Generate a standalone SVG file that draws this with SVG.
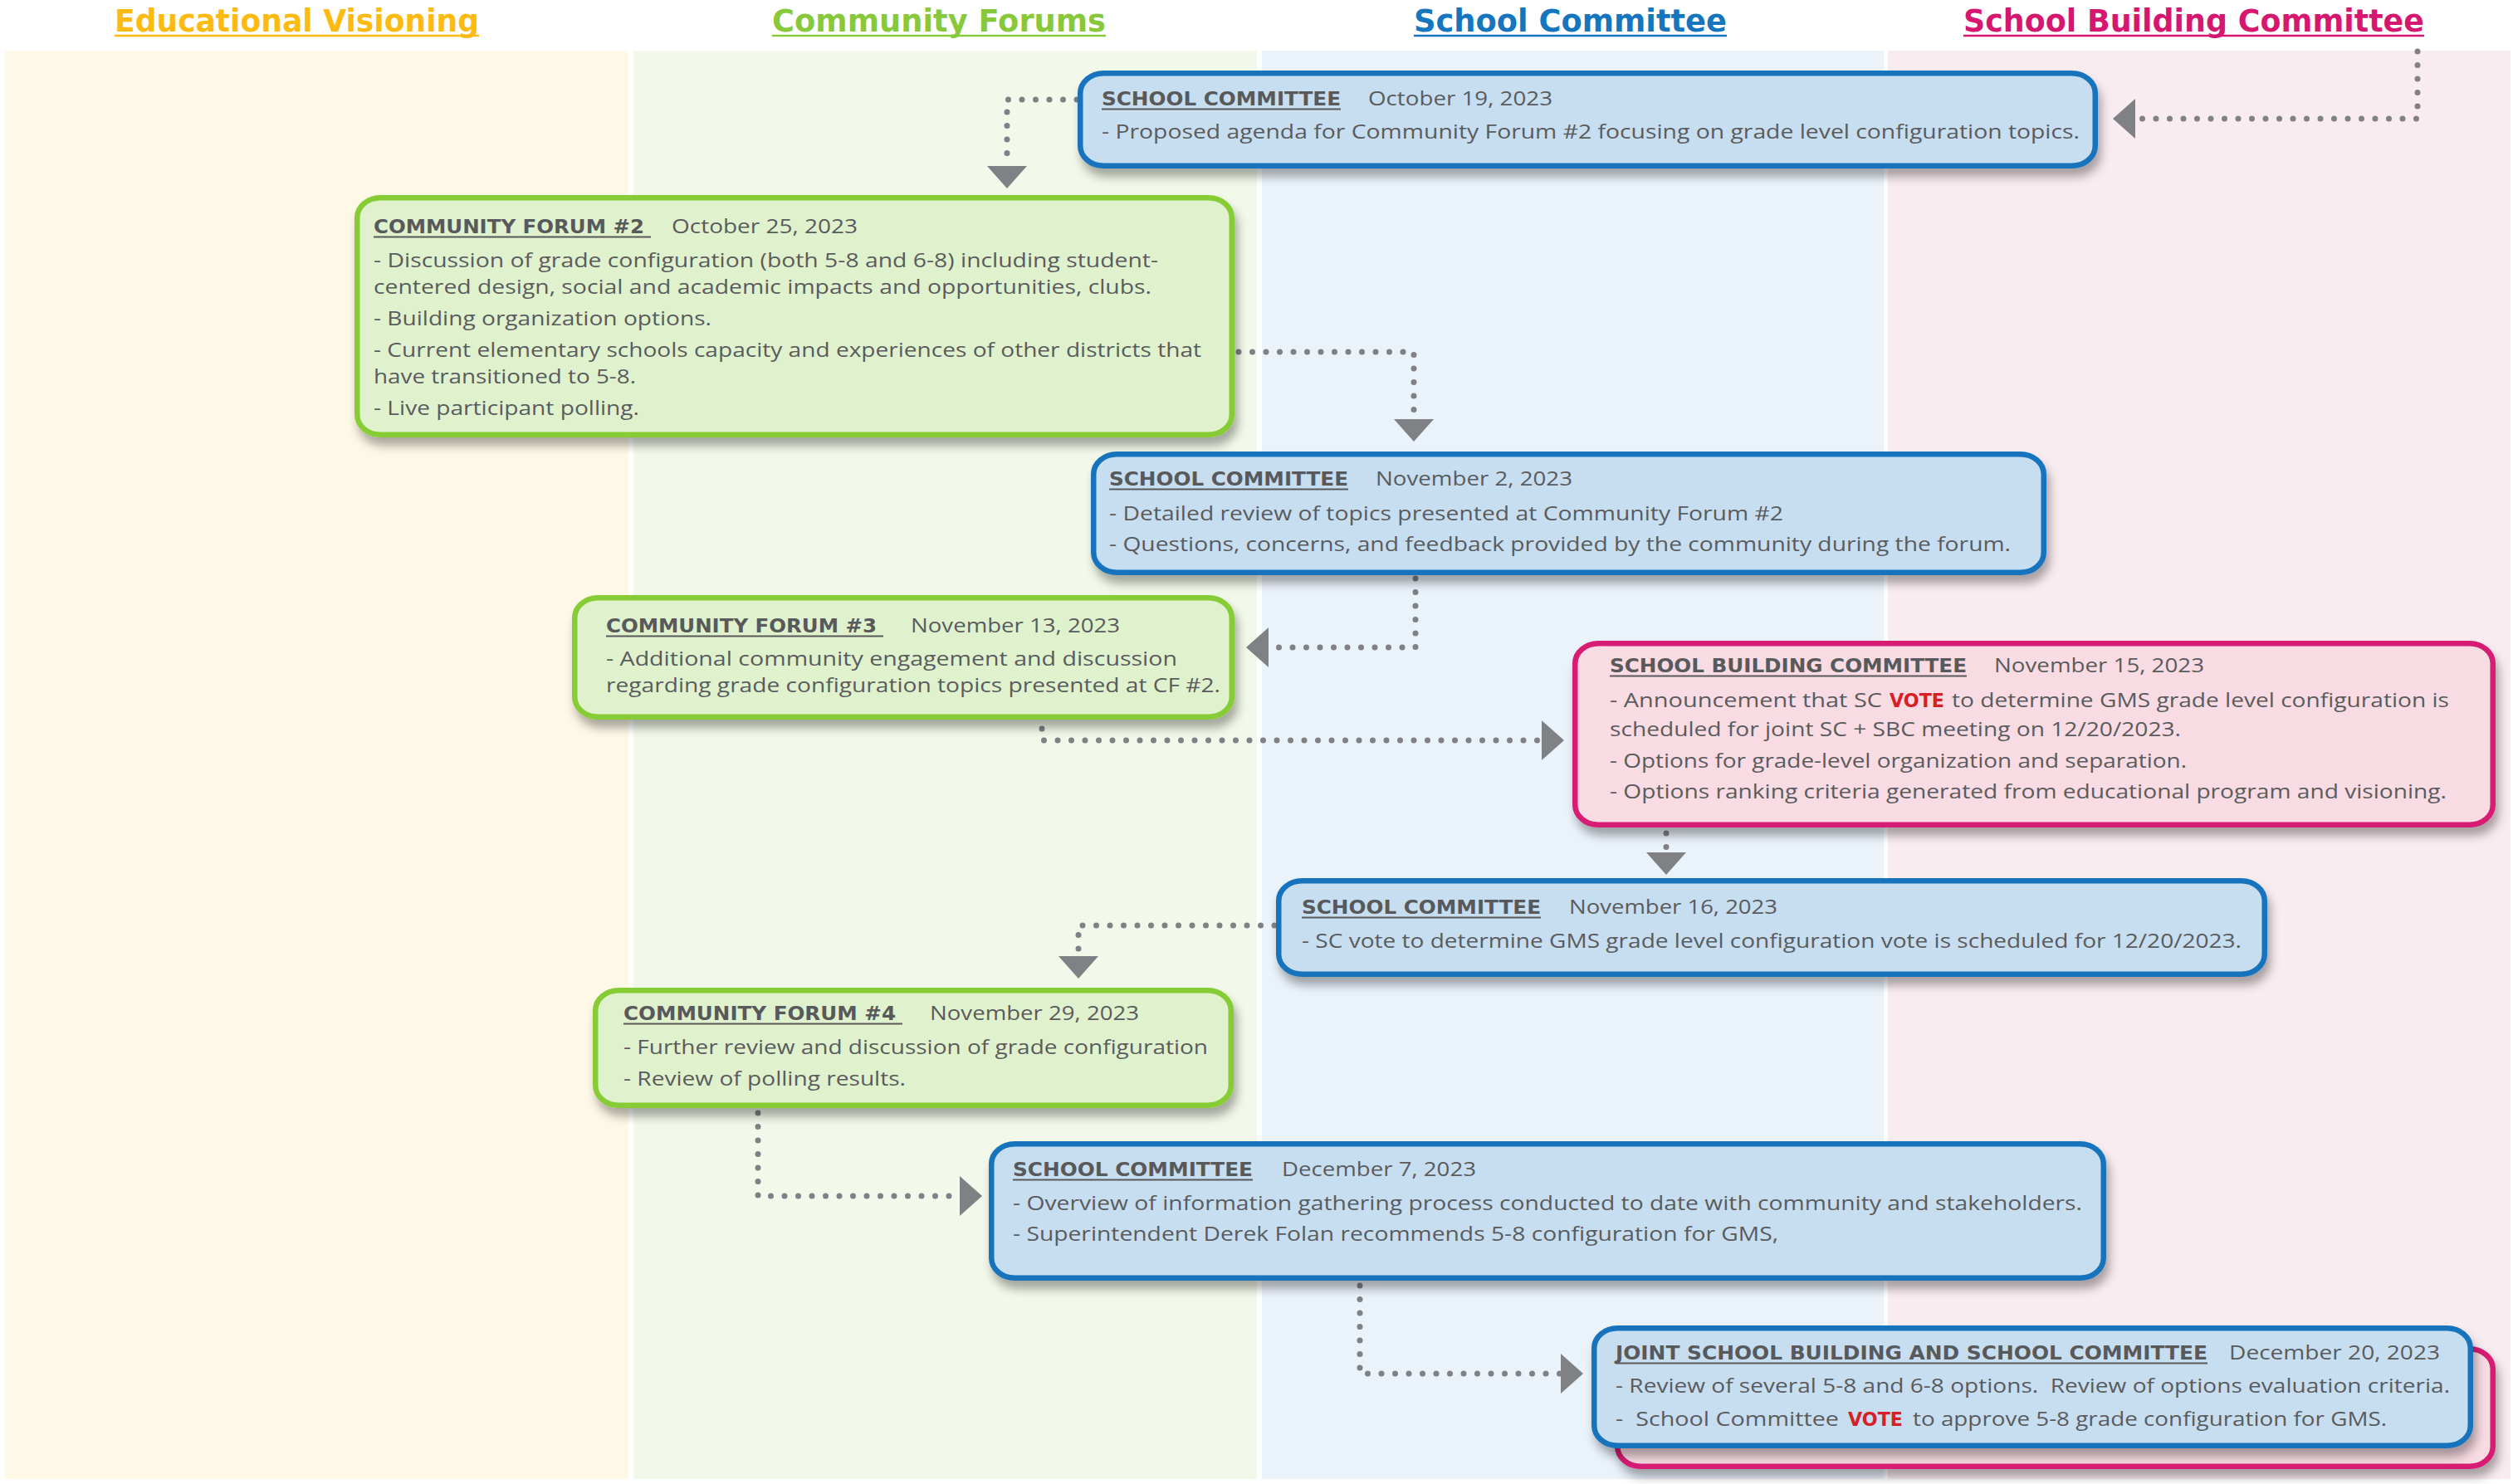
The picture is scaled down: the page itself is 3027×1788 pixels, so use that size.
<svg xmlns="http://www.w3.org/2000/svg" width="3027" height="1788" viewBox="0 0 3027 1788">
  <style>
    .col { font-family: "DejaVu Sans", "Liberation Sans", sans-serif; font-weight: bold; font-size: 37px; }
    .hd { font-family: "DejaVu Sans", "Liberation Sans", sans-serif; font-weight: bold; font-size: 23.5px; fill: #58595b; }
    .tx { font-family: "Open Sans", "DejaVu Sans", sans-serif; font-weight: 400; font-size: 23.5px; fill: #5a5b5d; }
    .pre { white-space: pre; }
    .vote { font-family: "DejaVu Sans", "Liberation Sans", sans-serif; font-weight: bold; font-size: 23.5px; fill: #d71f26; }
    .ul { stroke: #58595b; stroke-width: 2; }
    .sc { fill: #c7def1; stroke: #1473bc; stroke-width: 6.5; }
    .cf { fill: #e0f2cd; stroke: #86cc35; stroke-width: 6.5; }
    .sbc { fill: #f8dbe3; stroke: #d71a73; stroke-width: 6.5; }
    .link { fill: none; stroke: #808184; stroke-width: 7; stroke-linecap: round; stroke-dasharray: 0 16.5; }
  </style>
  <defs>
    <filter id="shadow" x="-5%" y="-15%" width="112%" height="145%">
      <feDropShadow dx="4" dy="10" stdDeviation="6" flood-color="#000" flood-opacity="0.33"/>
    </filter>
    <marker id="arrow" markerUnits="userSpaceOnUse" markerWidth="28" markerHeight="48" refX="0" refY="24" orient="auto" viewBox="0 0 28 48">
      <path d="M0,0 L27,24 L0,48 Z" fill="#808184"/>
    </marker>
  </defs>

  <rect width="3027" height="1788" fill="#ffffff"/>

  <!-- swimlanes -->
  <g id="lanes">
    <rect x="6" y="61" width="751" height="1721" fill="#fef8e6"/>
    <rect x="763" y="61" width="751" height="1721" fill="#f2f8ea"/>
    <rect x="1520" y="61" width="749" height="1721" fill="#eaf2fa"/>
    <rect x="2274" y="61" width="750" height="1721" fill="#f9ecf0"/>
  </g>

  <!-- lane titles -->
  <g id="lane-titles">
    <text class="col" x="138" y="38" textLength="439" lengthAdjust="spacingAndGlyphs" fill="#fdbb12">Educational Visioning</text>
    <line x1="138" y1="43" x2="577" y2="43" stroke="#fdbb12" stroke-width="2.7"/>
    <text class="col" x="930" y="38" textLength="402" lengthAdjust="spacingAndGlyphs" fill="#88c93c">Community Forums</text>
    <line x1="930" y1="43" x2="1332" y2="43" stroke="#88c93c" stroke-width="2.7"/>
    <text class="col" x="1703" y="38" textLength="377" lengthAdjust="spacingAndGlyphs" fill="#1575bd">School Committee</text>
    <line x1="1703" y1="43" x2="2080" y2="43" stroke="#1575bd" stroke-width="2.7"/>
    <text class="col" x="2365" y="38" textLength="555" lengthAdjust="spacingAndGlyphs" fill="#d6176f">School Building Committee</text>
    <line x1="2365" y1="43" x2="2920" y2="43" stroke="#d6176f" stroke-width="2.7"/>
  </g>

  <!-- connectors -->
  <g id="connectors">
    <path class="link" d="M1297,120 H1213 V200" marker-end="url(#arrow)"/>
    <path class="link" d="M2912,62 V143 H2572" marker-end="url(#arrow)"/>
    <path class="link" d="M1492,424 H1703 V505" marker-end="url(#arrow)"/>
    <path class="link" d="M1705,697 V780 H1528" marker-end="url(#arrow)"/>
    <path class="link" d="M1255,878 V892 H1857" marker-end="url(#arrow)"/>
    <path class="link" d="M2007,1004 V1027" marker-end="url(#arrow)"/>
    <path class="link" d="M1535,1115 H1299 V1152" marker-end="url(#arrow)"/>
    <path class="link" d="M913,1341 V1441 H1156" marker-end="url(#arrow)"/>
    <path class="link" d="M1638,1549 V1655 H1880" marker-end="url(#arrow)"/>
  </g>

  <!-- SC, October 19 -->
  <g id="sc-oct19">
    <rect class="sc" x="1301.25" y="88.25" width="1222.5" height="111.5" rx="28" ry="24" filter="url(#shadow)"/>
    <text class="hd" x="1327" y="127" textLength="288" lengthAdjust="spacingAndGlyphs">SCHOOL COMMITTEE</text>
    <line class="ul" x1="1327" y1="131.5" x2="1615" y2="131.5"/>
    <text class="tx" x="1648" y="127" textLength="222" lengthAdjust="spacingAndGlyphs">October 19, 2023</text>
    <text class="tx" x="1327" y="167" textLength="1178" lengthAdjust="spacingAndGlyphs">- Proposed agenda for Community Forum #2 focusing on grade level configuration topics.</text>
  </g>

  <!-- Community Forum #2 -->
  <g id="cf2-oct25">
    <rect class="cf" x="430.25" y="238.25" width="1053.5" height="285.5" rx="28" ry="24" filter="url(#shadow)"/>
    <text class="hd" x="450" y="281" textLength="326" lengthAdjust="spacingAndGlyphs">COMMUNITY FORUM #2</text>
    <line class="ul" x1="450" y1="285.5" x2="784" y2="285.5"/>
    <text class="tx" x="809" y="281" textLength="224" lengthAdjust="spacingAndGlyphs">October 25, 2023</text>
    <text class="tx" x="450" y="322" textLength="945" lengthAdjust="spacingAndGlyphs">- Discussion of grade configuration (both 5-8 and 6-8) including student-</text>
    <text class="tx" x="450" y="354" textLength="937" lengthAdjust="spacingAndGlyphs">centered design, social and academic impacts and opportunities, clubs.</text>
    <text class="tx" x="450" y="392" textLength="407" lengthAdjust="spacingAndGlyphs">- Building organization options.</text>
    <text class="tx" x="450" y="430" textLength="997" lengthAdjust="spacingAndGlyphs">- Current elementary schools capacity and experiences of other districts that</text>
    <text class="tx" x="450" y="462" textLength="316" lengthAdjust="spacingAndGlyphs">have transitioned to 5-8.</text>
    <text class="tx" x="450" y="500" textLength="320" lengthAdjust="spacingAndGlyphs">- Live participant polling.</text>
  </g>

  <!-- SC, November 2 -->
  <g id="sc-nov2">
    <rect class="sc" x="1317.25" y="547.25" width="1144.5" height="142.5" rx="28" ry="24" filter="url(#shadow)"/>
    <text class="hd" x="1336" y="585" textLength="288" lengthAdjust="spacingAndGlyphs">SCHOOL COMMITTEE</text>
    <line class="ul" x1="1336" y1="589.5" x2="1624" y2="589.5"/>
    <text class="tx" x="1657" y="585" textLength="237" lengthAdjust="spacingAndGlyphs">November 2, 2023</text>
    <text class="tx" x="1336" y="627" textLength="812" lengthAdjust="spacingAndGlyphs">- Detailed review of topics presented at Community Forum #2</text>
    <text class="tx" x="1336" y="664" textLength="1086" lengthAdjust="spacingAndGlyphs">- Questions, concerns, and feedback provided by the community during the forum.</text>
  </g>

  <!-- Community Forum #3 -->
  <g id="cf3-nov13">
    <rect class="cf" x="692.25" y="720.25" width="791.5" height="143.5" rx="28" ry="24" filter="url(#shadow)"/>
    <text class="hd" x="730" y="762" textLength="326" lengthAdjust="spacingAndGlyphs">COMMUNITY FORUM #3</text>
    <line class="ul" x1="730" y1="766.5" x2="1064" y2="766.5"/>
    <text class="tx" x="1097" y="762" textLength="252" lengthAdjust="spacingAndGlyphs">November 13, 2023</text>
    <text class="tx" x="730" y="802" textLength="688" lengthAdjust="spacingAndGlyphs">- Additional community engagement and discussion</text>
    <text class="tx" x="730" y="834" textLength="740" lengthAdjust="spacingAndGlyphs">regarding grade configuration topics presented at CF #2.</text>
  </g>

  <!-- SBC, November 15 -->
  <g id="sbc-nov15">
    <rect class="sbc" x="1897.25" y="775.25" width="1105.5" height="218.5" rx="28" ry="24" filter="url(#shadow)"/>
    <text class="hd" x="1939" y="810" textLength="430" lengthAdjust="spacingAndGlyphs">SCHOOL BUILDING COMMITTEE</text>
    <line class="ul" x1="1939" y1="814.5" x2="2369" y2="814.5"/>
    <text class="tx" x="2402" y="810" textLength="253" lengthAdjust="spacingAndGlyphs">November 15, 2023</text>
    <text class="tx" x="1939" y="852" textLength="328" lengthAdjust="spacingAndGlyphs">- Announcement that SC</text>
    <text class="vote" x="2276" y="852" textLength="66" lengthAdjust="spacingAndGlyphs">VOTE</text>
    <text class="tx" x="2351" y="852" textLength="599" lengthAdjust="spacingAndGlyphs">to determine GMS grade level configuration is</text>
    <text class="tx" x="1939" y="887" textLength="688" lengthAdjust="spacingAndGlyphs">scheduled for joint SC + SBC meeting on 12/20/2023.</text>
    <text class="tx" x="1939" y="925" textLength="695" lengthAdjust="spacingAndGlyphs">- Options for grade-level organization and separation.</text>
    <text class="tx" x="1939" y="962" textLength="1008" lengthAdjust="spacingAndGlyphs">- Options ranking criteria generated from educational program and visioning.</text>
  </g>

  <!-- SC, November 16 -->
  <g id="sc-nov16">
    <rect class="sc" x="1540.25" y="1061.25" width="1187.5" height="112.5" rx="28" ry="24" filter="url(#shadow)"/>
    <text class="hd" x="1568" y="1101" textLength="288" lengthAdjust="spacingAndGlyphs">SCHOOL COMMITTEE</text>
    <line class="ul" x1="1568" y1="1105.5" x2="1856" y2="1105.5"/>
    <text class="tx" x="1890" y="1101" textLength="251" lengthAdjust="spacingAndGlyphs">November 16, 2023</text>
    <text class="tx" x="1568" y="1142" textLength="1132" lengthAdjust="spacingAndGlyphs">- SC vote to determine GMS grade level configuration vote is scheduled for 12/20/2023.</text>
  </g>

  <!-- Community Forum #4 -->
  <g id="cf4-nov29">
    <rect class="cf" x="717.25" y="1193.25" width="765.5" height="138.5" rx="28" ry="24" filter="url(#shadow)"/>
    <text class="hd" x="751" y="1229" textLength="328" lengthAdjust="spacingAndGlyphs">COMMUNITY FORUM #4</text>
    <line class="ul" x1="751" y1="1233.5" x2="1087" y2="1233.5"/>
    <text class="tx" x="1120" y="1229" textLength="252" lengthAdjust="spacingAndGlyphs">November 29, 2023</text>
    <text class="tx" x="751" y="1270" textLength="704" lengthAdjust="spacingAndGlyphs">- Further review and discussion of grade configuration</text>
    <text class="tx" x="751" y="1308" textLength="340" lengthAdjust="spacingAndGlyphs">- Review of polling results.</text>
  </g>

  <!-- SC, December 7 -->
  <g id="sc-dec7">
    <rect class="sc" x="1194.25" y="1378.25" width="1339.5" height="161.5" rx="28" ry="24" filter="url(#shadow)"/>
    <text class="hd" x="1220" y="1417" textLength="289" lengthAdjust="spacingAndGlyphs">SCHOOL COMMITTEE</text>
    <line class="ul" x1="1220" y1="1421.5" x2="1509" y2="1421.5"/>
    <text class="tx" x="1544" y="1417" textLength="234" lengthAdjust="spacingAndGlyphs">December 7, 2023</text>
    <text class="tx" x="1220" y="1458" textLength="1288" lengthAdjust="spacingAndGlyphs">- Overview of information gathering process conducted to date with community and stakeholders.</text>
    <text class="tx" x="1220" y="1495" textLength="922" lengthAdjust="spacingAndGlyphs">- Superintendent Derek Folan recommends 5-8 configuration for GMS,</text>
  </g>

  <!-- Joint SBC + SC, December 20 -->
  <g id="joint-dec20">
    <rect class="sbc" x="1948.25" y="1625.25" width="1054.5" height="141.5" rx="28" ry="24" filter="url(#shadow)"/>
    <rect class="sc" x="1920.25" y="1600.25" width="1055.5" height="141.5" rx="28" ry="24" filter="url(#shadow)"/>
    <text class="hd" x="1946" y="1638" textLength="713" lengthAdjust="spacingAndGlyphs">JOINT SCHOOL BUILDING AND SCHOOL COMMITTEE</text>
    <line class="ul" x1="1946" y1="1642.5" x2="2659" y2="1642.5"/>
    <text class="tx" x="2685" y="1638" textLength="254" lengthAdjust="spacingAndGlyphs">December 20, 2023</text>
    <text class="tx pre" x="1946" y="1678" textLength="1005" lengthAdjust="spacingAndGlyphs">- Review of several 5-8 and 6-8 options.  Review of options evaluation criteria.</text>
    <text class="tx pre" x="1946" y="1718" textLength="269" lengthAdjust="spacingAndGlyphs">-  School Committee</text>
    <text class="vote" x="2226" y="1718" textLength="66" lengthAdjust="spacingAndGlyphs">VOTE</text>
    <text class="tx" x="2304" y="1718" textLength="571" lengthAdjust="spacingAndGlyphs">to approve 5-8 grade configuration for GMS.</text>
  </g>
</svg>
